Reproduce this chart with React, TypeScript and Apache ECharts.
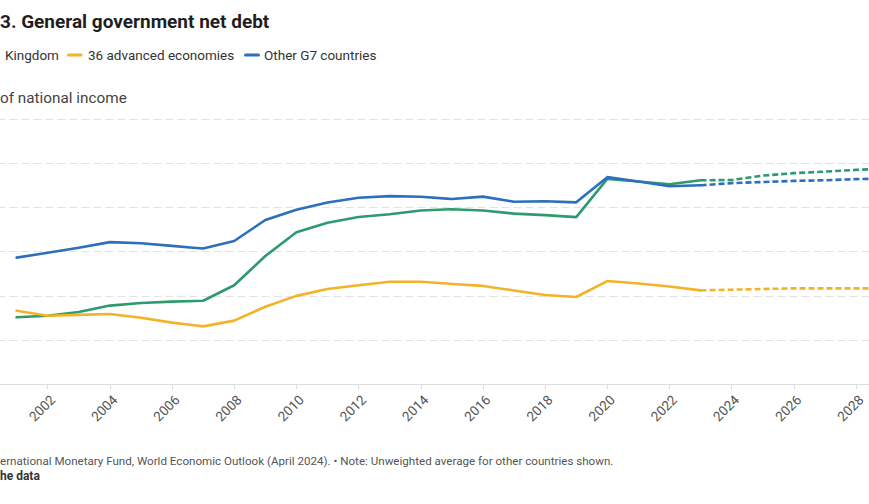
import React, { useEffect, useRef } from "react";
import * as echarts from "echarts";

const years = [
  2001, 2002, 2003, 2004, 2005, 2006, 2007, 2008, 2009, 2010,
  2011, 2012, 2013, 2014, 2015, 2016, 2017, 2018, 2019, 2020,
  2021, 2022, 2023, 2024, 2025, 2026, 2027, 2028, 2029,
];
const lastActualYear = 2023;

const ukValues = [
  30.3, 31.0, 32.7, 35.6, 36.8, 37.4, 37.8, 44.8, 58.0, 68.8,
  73.1, 75.7, 76.9, 78.6, 79.2, 78.6, 77.2, 76.5, 75.6, 92.9,
  91.7, 90.5, 92.3, 92.4, 94.4, 95.5, 96.2, 97.0, 97.6,
];
const advancedValues = [
  33.3, 31.0, 31.4, 31.8, 30.1, 27.9, 26.2, 28.8, 35.1, 40.0,
  43.1, 44.8, 46.4, 46.4, 45.4, 44.5, 42.4, 40.4, 39.5, 46.7,
  45.6, 44.2, 42.5, 42.8, 43.1, 43.4, 43.4, 43.4, 43.4,
];
const g7Values = [
  57.3, 59.5, 61.8, 64.3, 63.8, 62.6, 61.4, 64.8, 74.3, 79.0,
  82.2, 84.4, 85.1, 84.8, 83.8, 84.9, 82.6, 82.8, 82.3, 93.7,
  91.7, 89.6, 90.0, 91.0, 91.5, 92.0, 92.3, 92.8, 93.1,
];

const seriesNames = ["United Kingdom", "36 advanced economies", "Other G7 countries"];
const legendLabels = ["Kingdom", "36 advanced economies", "Other G7 countries"];
const seriesColors = ["#2e9a6d", "#f2b328", "#2c6fbc"];
const seriesValues = [ukValues, advancedValues, g7Values];

const titleText = "3. General government net debt";
const subtitleText = "of national income";
const sourceText =
  "ernational Monetary Fund, World Economic Outlook (April 2024). \u2022 Note: Unweighted average for other countries shown.";
const dataLinkText = "he data";

// The chart canvas is wider than the window and shifted left, as in the reference crop.
const SHIFT = 60;
const CANVAS_W = 990;

export default function App() {
  const ref = useRef<HTMLDivElement>(null);

  useEffect(() => {
    if (!ref.current) return;
    const chart = echarts.init(ref.current, undefined, { renderer: "svg" });

    const actual = (vals: number[]) =>
      years.map((y, i) => [y, vals[i]] as [number, number]).filter((d) => d[0] <= lastActualYear);
    const projected = (vals: number[]) =>
      years.map((y, i) => [y, vals[i]] as [number, number]).filter((d) => d[0] >= lastActualYear);

    const series: any[] = [];
    seriesNames.forEach((name, i) => {
      series.push({
        name,
        type: "line",
        data: actual(seriesValues[i]),
        showSymbol: false,
        symbol: "none",
        lineStyle: { color: seriesColors[i], width: 2.6, cap: "round", join: "round" },
        itemStyle: { color: seriesColors[i] },
        z: 3 + i,
      });
    });
    seriesNames.forEach((name, i) => {
      series.push({
        name,
        type: "line",
        data: projected(seriesValues[i]),
        showSymbol: false,
        symbol: "none",
        lineStyle: { color: seriesColors[i], width: 2.6, type: [6, 3] },
        itemStyle: { color: seriesColors[i] },
        z: 3 + i,
      });
    });

    const legendFont = "13.5px Roboto, sans-serif";
    const legendItems: any[] = [
      {
        type: "text",
        x: SHIFT + 5,
        y: 55,
        style: { text: legendLabels[0], font: legendFont, fill: "#333", verticalAlign: "middle" },
      },
      {
        type: "rect",
        shape: { x: SHIFT + 67, y: 53.5, width: 15.5, height: 3, r: 1.5 },
        style: { fill: seriesColors[1] },
      },
      {
        type: "text",
        x: SHIFT + 88,
        y: 55,
        style: { text: legendLabels[1], font: legendFont, fill: "#333", verticalAlign: "middle" },
      },
      {
        type: "rect",
        shape: { x: SHIFT + 244, y: 53.5, width: 16, height: 3, r: 1.5 },
        style: { fill: seriesColors[2] },
      },
      {
        type: "text",
        x: SHIFT + 264,
        y: 55,
        style: { text: legendLabels[2], font: legendFont, fill: "#333", verticalAlign: "middle" },
      },
    ];

    chart.setOption({
      animation: false,
      textStyle: { fontFamily: "Roboto, sans-serif" },
      graphic: [
        {
          type: "text",
          x: SHIFT + 0,
          y: 21,
          style: {
            text: titleText,
            font: "bold 19px Roboto, sans-serif",
            fill: "#1f1f1f",
            verticalAlign: "middle",
          },
        },
        ...legendItems,
        {
          type: "text",
          x: SHIFT + 0,
          y: 98,
          style: {
            text: subtitleText,
            font: "15.3px Roboto, sans-serif",
            fill: "#444",
            verticalAlign: "middle",
          },
        },
        {
          type: "text",
          x: SHIFT + 0,
          y: 461,
          style: {
            text: sourceText,
            font: "11.6px Roboto, sans-serif",
            fill: "#555",
            verticalAlign: "middle",
          },
        },
        {
          type: "text",
          x: SHIFT + 0,
          y: 476,
          style: {
            text: dataLinkText,
            font: "bold 12px Roboto, sans-serif",
            fill: "#333",
            verticalAlign: "middle",
          },
        },
      ],
      grid: {
        left: SHIFT - 14.5,
        right: CANVAS_W - (SHIFT + 918.2),
        top: 119,
        bottom: 119.7,
        containLabel: false,
      },
      xAxis: {
        type: "value",
        min: 2000,
        max: 2030,
        interval: 2,
        axisLine: { show: true, lineStyle: { color: "#dddddd", width: 1 } },
        axisTick: { show: true, length: 5, lineStyle: { color: "#dddddd" } },
        splitLine: { show: false },
        axisLabel: {
          rotate: 45,
          fontSize: 13.5,
          color: "#555",
          margin: 8,
          verticalAlign: "top",
          showMinLabel: false,
          showMaxLabel: false,
          formatter: (v: number) => String(v),
        },
      },
      yAxis: {
        type: "value",
        min: 0,
        max: 120,
        interval: 20,
        axisLine: { show: false },
        axisTick: { show: false },
        axisLabel: { show: false },
        splitLine: { show: true, lineStyle: { color: "#e3e3e3", type: [8, 4], width: 1 } },
      },
      series,
    });

    return () => chart.dispose();
  }, []);

  return (
    <div
      ref={ref}
      style={{ position: "fixed", left: -SHIFT, top: 0, width: CANVAS_W, height: 504, background: "#fff" }}
    />
  );
}
